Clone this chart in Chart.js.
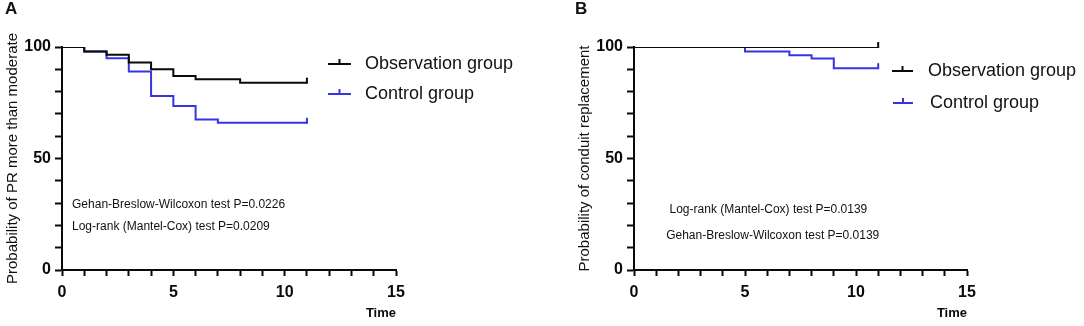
<!DOCTYPE html>
<html>
<head>
<meta charset="utf-8">
<script src="https://cdn.jsdelivr.net/npm/chart.js@4/dist/chart.umd.min.js"></script>
<style>
    html, body { margin: 0; padding: 0; background: #fff; }
    .panel { position: absolute; top: 0; width: 542px; height: 326px; }
    #panelA { left: 0; }
    #panelB { left: 542px; }
</style>
</head>
<body>
<div class="panel" id="panelA"><canvas id="chart-a" width="542" height="326"></canvas></div>
<div class="panel" id="panelB"><canvas id="chart-b" width="542" height="326"></canvas></div>
<script>
// Panel A - PR more than moderate
const timesObsA = [0, 1, 2, 3, 4, 5, 6, 8, 11];
const survObsA = [100, 98, 96.5, 93, 90, 87, 85.5, 84, 84];
const timesCtrlA = [0, 1, 2, 3, 4, 5, 6, 7, 11];
const survCtrlA = [100, 98, 95, 89, 78, 73.5, 67.5, 66, 66];

// Panel B - conduit replacement
const timesObsB = [0, 11];
const survObsB = [100, 100];
const timesCtrlB = [0, 5, 7, 8, 9, 11];
const survCtrlB = [100, 98, 96.3, 94.8, 90.5, 90.5];

const groupNames = ['Observation group', 'Control group'];
const groupColors = ['#0a0a0a', '#3535e6'];

const xTickLabels = [0, 5, 10, 15];
const yTickLabels = [0, 50, 100];

const testsA = ['Gehan-Breslow-Wilcoxon test P=0.0226', 'Log-rank (Mantel-Cox) test P=0.0209'];
const testsB = ['Log-rank (Mantel-Cox) test P=0.0139', 'Gehan-Breslow-Wilcoxon test P=0.0139'];

const FONT = "'Liberation Sans', Arial, sans-serif";

function toPoints(times, values) {
    return times.map((t, i) => ({ x: t, y: values[i] }));
}

// draws censor marks, legend, test labels and panel letter
const extrasPlugin = {
    id: 'extras',
    afterDatasetsDraw(chart, args, opts) {
        const ctx = chart.ctx;
        const xs = chart.scales.x;
        const ys = chart.scales.y;
        ctx.save();

        // censor ticks at the last point of each curve
        chart.data.datasets.forEach((ds, i) => {
            const last = ds.data[ds.data.length - 1];
            const px = xs.getPixelForValue(last.x);
            const py = ys.getPixelForValue(last.y);
            ctx.strokeStyle = ds.borderColor;
            ctx.lineWidth = 2;
            ctx.beginPath();
            ctx.moveTo(px, py + 1);
            ctx.lineTo(px, py - 5);
            ctx.stroke();
        });

        // legend
        opts.legend.forEach((item, i) => {
            const ds = chart.data.datasets[i];
            ctx.strokeStyle = ds.borderColor;
            ctx.lineWidth = 2;
            ctx.beginPath();
            ctx.moveTo(item.x0, item.y);
            ctx.lineTo(item.x1, item.y);
            const mid = (item.x0 + item.x1) / 2;
            ctx.moveTo(mid, item.y);
            ctx.lineTo(mid, item.y - 5);
            ctx.stroke();
            ctx.fillStyle = '#111';
            ctx.font = '18px ' + FONT;
            ctx.textBaseline = 'middle';
            ctx.textAlign = 'left';
            ctx.fillText(ds.label, item.tx, item.y);
        });

        // test statistics, placed in data coordinates
        ctx.font = '12px ' + FONT;
        ctx.fillStyle = '#111';
        ctx.textBaseline = 'middle';
        ctx.textAlign = 'left';
        opts.notes.forEach(n => {
            ctx.fillText(n.text, xs.getPixelForValue(n.x), ys.getPixelForValue(n.y));
        });

        // panel letter
        ctx.font = 'bold 17px ' + FONT;
        ctx.textBaseline = 'middle';
        ctx.fillText(opts.letter, opts.letterX, 9);
        ctx.restore();
    }
};

function makeChart(id, obsPts, ctrlPts, yTitle, padLeft, extras) {
    const ctx = document.getElementById(id).getContext('2d');
    return new Chart(ctx, {
        type: 'line',
        data: {
            datasets: [
                {
                    label: groupNames[0],
                    data: obsPts,
                    borderColor: groupColors[0],
                    borderWidth: 2,
                    stepped: true,
                    pointRadius: 0,
                    fill: false
                },
                {
                    label: groupNames[1],
                    data: ctrlPts,
                    borderColor: groupColors[1],
                    borderWidth: 2,
                    stepped: true,
                    pointRadius: 0,
                    fill: false
                }
            ]
        },
        options: {
            responsive: false,
            animation: false,
            layout: {
                padding: { left: padLeft, right: extras.padRight, top: 47, bottom: 0 }
            },
            scales: {
                x: {
                    type: 'linear',
                    min: 0,
                    max: 15,
                    border: { color: '#0a0a0a', width: 2 },
                    grid: {
                        drawOnChartArea: false,
                        drawTicks: true,
                        tickLength: 6,
                        tickColor: '#0a0a0a',
                        tickWidth: 2
                    },
                    ticks: {
                        stepSize: 1,
                        autoSkip: false,
                        maxRotation: 0,
                        padding: 7,
                        color: '#0a0a0a',
                        font: { family: FONT, size: 16, weight: 'bold' },
                        callback: v => xTickLabels.includes(v) ? String(v) : ''
                    },
                    title: {
                        display: true,
                        text: 'Time',
                        align: 'end',
                        color: '#0a0a0a',
                        font: { family: FONT, size: 13, weight: 'bold' },
                        padding: { top: 0, bottom: 5 }
                    },
                    afterFit: scale => { scale.height = 56; }
                },
                y: {
                    min: 0,
                    max: 100,
                    border: { color: '#0a0a0a', width: 2 },
                    grid: {
                        drawOnChartArea: false,
                        drawTicks: true,
                        tickLength: 7,
                        tickColor: '#0a0a0a',
                        tickWidth: 2
                    },
                    ticks: {
                        stepSize: 10,
                        autoSkip: false,
                        padding: 4,
                        color: '#0a0a0a',
                        font: { family: FONT, size: 16, weight: 'bold' },
                        callback: v => yTickLabels.includes(v) ? String(v) : ''
                    },
                    title: {
                        display: true,
                        text: yTitle,
                        color: '#111',
                        font: { family: FONT, size: 15 },
                        padding: { top: 4, bottom: 0 }
                    },
                    afterFit: scale => { scale.width = 62; }
                }
            },
            plugins: {
                legend: { display: false },
                tooltip: { enabled: false },
                extras: extras
            }
        },
        plugins: [extrasPlugin]
    });
}

makeChart('chart-a',
    toPoints(timesObsA, survObsA),
    toPoints(timesCtrlA, survCtrlA),
    'Probability of PR more than moderate',
    0,
    {
        padRight: 146,
        letter: 'A',
        letterX: 5,
        legend: [
            { x0: 328, x1: 351, y: 64, tx: 365 },
            { x0: 328, x1: 351, y: 94, tx: 365 }
        ],
        notes: [
            { text: testsA[0], x: 0.45, y: 29.5 },
            { text: testsA[1], x: 0.45, y: 19.3 }
        ]
    });

makeChart('chart-b',
    toPoints(timesObsB, survObsB),
    toPoints(timesCtrlB, survCtrlB),
    'Probability of conduit replacement',
    30,
    {
        padRight: 117,
        letter: 'B',
        letterX: 33,
        legend: [
            { x0: 350, x1: 371, y: 71, tx: 386 },
            { x0: 351, x1: 371, y: 103, tx: 388 }
        ],
        notes: [
            { text: testsB[0], x: 1.6, y: 27 },
            { text: testsB[1], x: 1.45, y: 15.2 }
        ]
    });
</script>
</body>
</html>
